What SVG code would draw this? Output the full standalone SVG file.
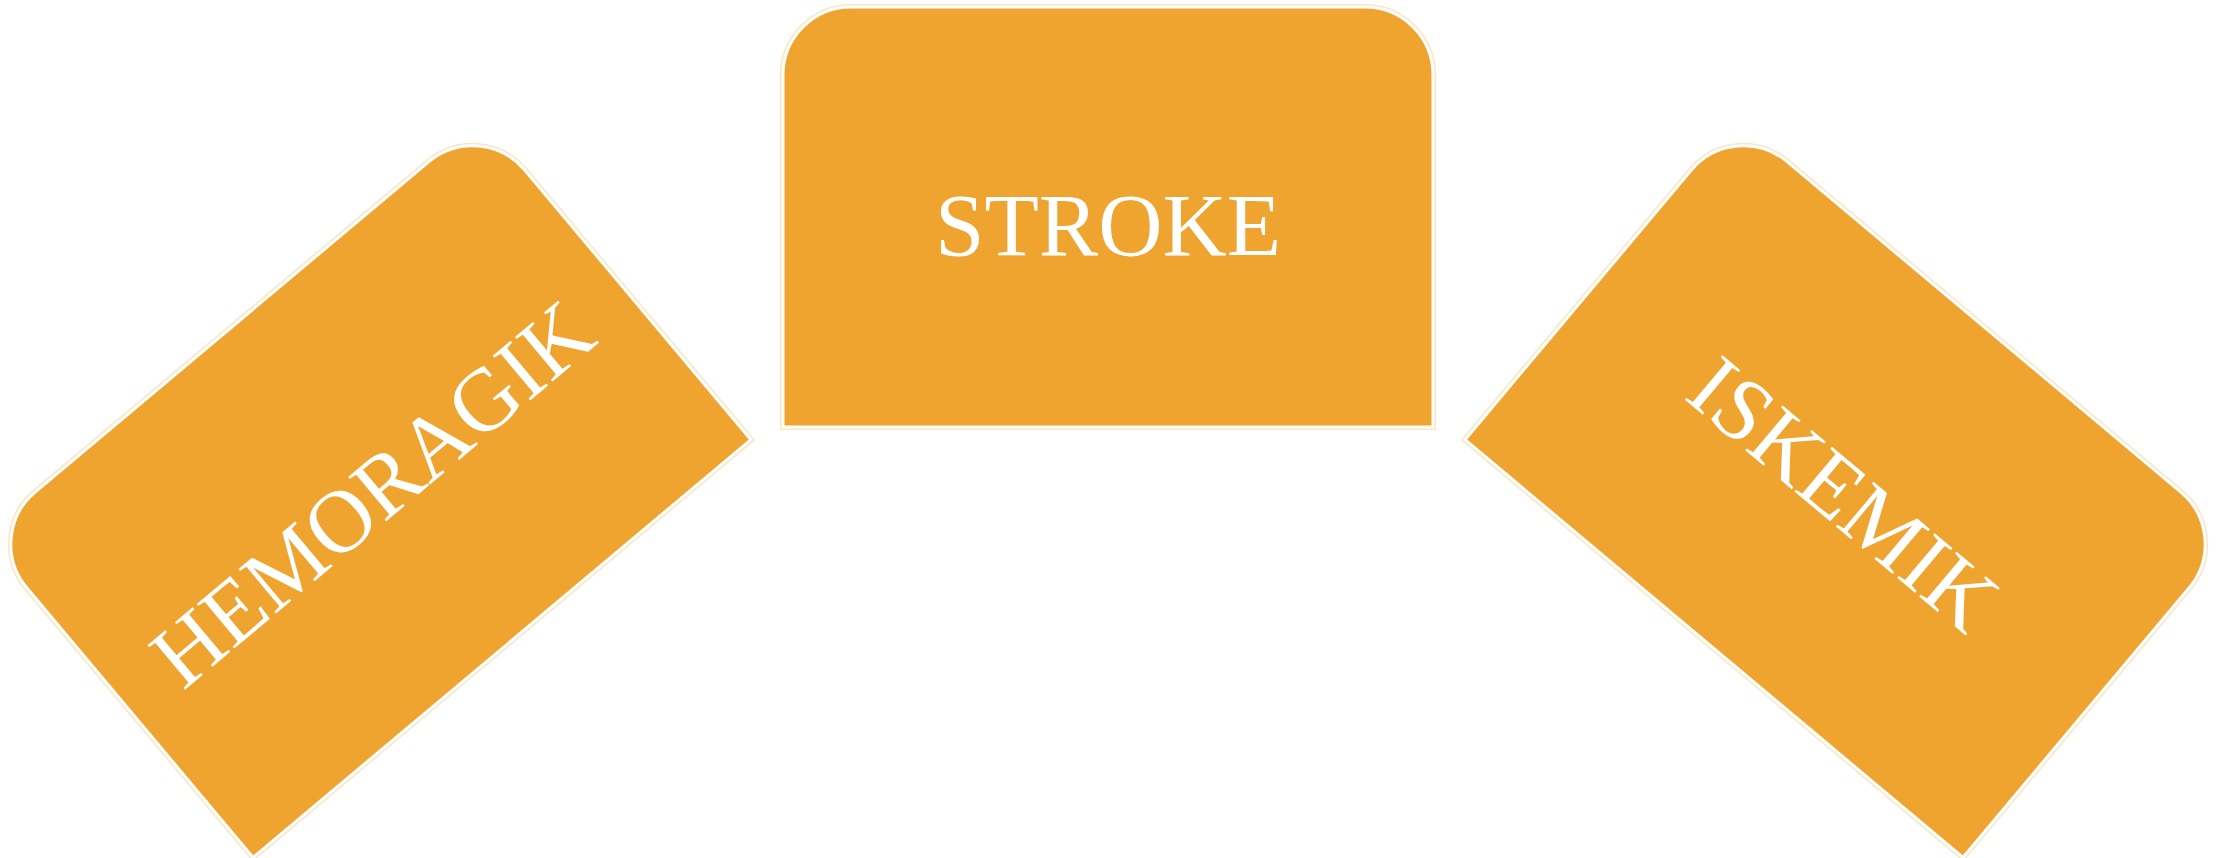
<svg xmlns="http://www.w3.org/2000/svg" xmlns:xlink="http://www.w3.org/1999/xlink" width="2225" height="858" viewBox="0 0 2225 858">
  <style>
    .halo { fill: none; stroke: #fbe6c4; stroke-width: 6; }
    .box { fill: #EFA430; stroke: #ffffff; stroke-width: 3; }
    .label { font-family: "Liberation Serif", "Times New Roman", serif; font-size: 89px; fill: #ffffff; text-anchor: middle; }
  </style>
  <defs>
    <path id="tab" d="M -325,210 L -325,-142 A 68 68 0 0 1 -257,-210 L 257,-210 A 68 68 0 0 1 325,-142 L 325,210 Z"/>
  </defs>
  <rect width="2225" height="858" fill="#ffffff"/>
  <g id="node-stroke" transform="translate(1108,217)">
    <use xlink:href="#tab" href="#tab" class="halo"/>
    <use xlink:href="#tab" href="#tab" class="box"/>
    <text class="label" x="0" y="38">STROKE</text>
  </g>
  <g id="node-hemoragik" transform="translate(367,487.7) rotate(-40)">
    <use xlink:href="#tab" href="#tab" class="halo"/>
    <use xlink:href="#tab" href="#tab" class="box"/>
    <text class="label" x="0" y="38">HEMORAGIK</text>
  </g>
  <g id="node-iskemik" transform="translate(1849,487.7) rotate(40)">
    <use xlink:href="#tab" href="#tab" class="halo"/>
    <use xlink:href="#tab" href="#tab" class="box"/>
    <text class="label" x="0" y="38">ISKEMIK</text>
  </g>
</svg>
